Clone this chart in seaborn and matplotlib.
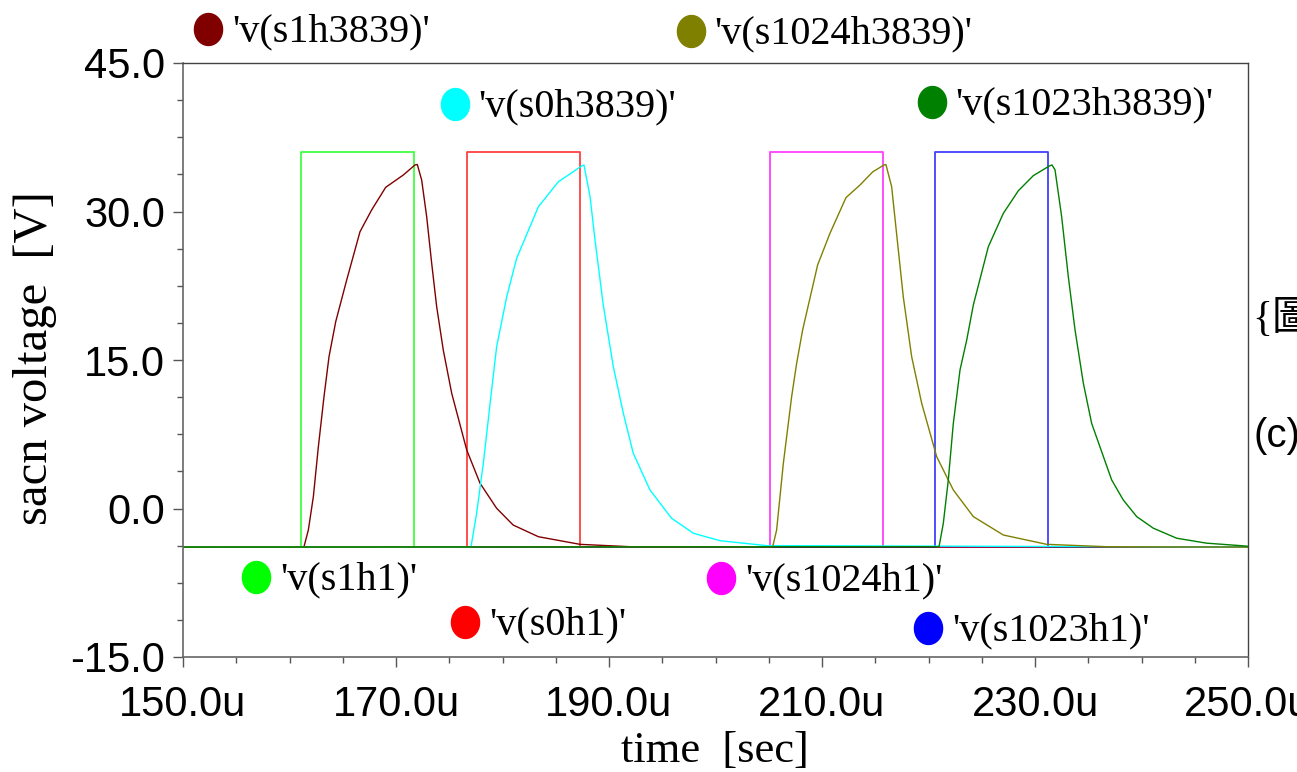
import numpy as np
import pandas as pd
import matplotlib
matplotlib.use("Agg")
import matplotlib.pyplot as plt
import seaborn as sns
from matplotlib.path import Path
from matplotlib.ticker import MultipleLocator, FixedLocator, FuncFormatter

# ---------------- data ----------------
low_level = -3.9
high_level = 36.0

pulse_names = ["'v(s1h1)'", "'v(s0h1)'", "'v(s1024h1)'", "'v(s1023h1)'"]
pulse_on = [161.1, 176.7, 205.1, 220.6]
pulse_off = [171.7, 187.3, 215.7, 231.2]
pulse_colors = ["#00ff00", "#ff0000", "#ff00ff", "#0000ff"]

t_s1h3839 = [150.0, 161.36, 161.77, 162.24, 162.71, 163.24, 163.71, 164.34, 165.37, 166.62,
             167.71, 169.03, 170.69, 171.78, 172.0, 172.41, 172.88, 173.35, 173.82, 174.44,
             175.23, 176.64, 177.89, 179.45, 181.0, 183.37, 187.28, 192.0, 250.0]
v_s1h3839 = [-3.9, -3.86, -2.17, 1.2, 6.24, 11.3, 15.33, 18.87, 23.08, 27.96,
             30.15, 32.44, 33.69, 34.7, 34.75, 33.18, 29.48, 24.77, 20.38, 16.0,
             11.64, 5.91, 2.55, 0.02, -1.67, -2.85, -3.62, -3.86, -3.9]

t_s0h3839 = [150.0, 177.04, 177.57, 178.2, 178.98, 179.45, 180.4, 181.33, 183.37, 185.24,
             187.44, 187.65, 188.22, 188.69, 189.47, 190.41, 191.35, 192.28, 193.85, 195.88,
             197.92, 200.42, 204.8, 250.0]
v_s0h3839 = [-3.9, -3.88, -0.49, 4.56, 11.97, 16.34, 21.4, 25.27, 30.48, 33.0,
             34.6, 34.7, 31.5, 27.1, 20.5, 14.3, 9.6, 5.57, 1.87, -0.99,
             -2.5, -3.25, -3.75, -3.9]

t_s1024h3839 = [150.0, 205.37, 205.74, 206.37, 207.15, 207.62, 208.18, 209.59, 210.75, 212.25,
                213.57, 214.76, 215.82, 216.0, 216.54, 217.0, 217.63, 218.42, 219.36, 220.77,
                222.33, 224.21, 227.03, 231.1, 236.7, 250.0]
v_s1024h3839 = [-3.9, -3.86, -2.17, 4.56, 11.3, 14.67, 18.03, 24.6, 27.8, 31.4,
                32.68, 34.0, 34.7, 34.75, 32.5, 27.8, 21.4, 15.33, 10.63, 5.23,
                1.87, -0.82, -2.68, -3.62, -3.86, -3.9]

t_s1023h3839 = [150.0, 220.99, 221.39, 221.86, 222.33, 222.96, 223.59, 224.21, 225.62, 227.03,
                228.44, 229.84, 231.35, 231.6, 231.88, 232.5, 233.13, 233.76, 234.54, 235.32,
                237.2, 238.29, 239.55, 241.11, 243.3, 246.1, 249.9, 250.0]
v_s1023h3839 = [-3.9, -3.86, -1.5, 2.88, 8.6, 14.0, 17.02, 20.56, 26.45, 29.82,
                32.1, 33.62, 34.6, 34.7, 34.2, 29.5, 23.4, 18.03, 12.65, 8.6,
                2.88, 0.86, -0.82, -1.99, -3.0, -3.5, -3.8, -3.85]

curve_names = ["'v(s1h3839)'", "'v(s0h3839)'", "'v(s1024h3839)'", "'v(s1023h3839)'"]
curve_t = [t_s1h3839, t_s0h3839, t_s1024h3839, t_s1023h3839]
curve_v = [v_s1h3839, v_s0h3839, v_s1024h3839, v_s1023h3839]
curve_colors = ["#800000", "#00ffff", "#808000", "#008000"]

x_ticks = [150.0, 170.0, 190.0, 210.0, 230.0, 250.0]
y_ticks = [-15.0, 0.0, 15.0, 30.0, 45.0]
x_min, x_max = 150.0, 250.0
y_min, y_max = -15.0, 45.0

# ---------------- build long table ----------------
rows = []
for name, on, off in zip(pulse_names, pulse_on, pulse_off):
    ts = [x_min, on, on, off, off, x_max]
    vs = [low_level, low_level, high_level, high_level, low_level, low_level]
    for i, (t, v) in enumerate(zip(ts, vs)):
        rows.append((name, i, t, v))
for name, ts, vs in zip(curve_names, curve_t, curve_v):
    for i, (t, v) in enumerate(zip(ts, vs)):
        rows.append((name, i, t, v))
df = pd.DataFrame(rows, columns=["signal", "order", "time", "voltage"])

# ---------------- figure ----------------
sns.set_style("white")
plt.rcParams["font.family"] = ["Liberation Sans", "DejaVu Sans"]
plt.rcParams["text.color"] = "black"
plt.rcParams["axes.labelcolor"] = "black"
plt.rcParams["xtick.color"] = "black"
plt.rcParams["ytick.color"] = "black"

W, H = 1297, 772
fig = plt.figure(figsize=(W / 100, H / 100), dpi=100)
L, R, T, B = 183, 1248, 63, 657
ax = fig.add_axes([L / W, 1 - B / H, (R - L) / W, (B - T) / H])
ax.set_facecolor("white")

for name, col in zip(pulse_names, pulse_colors):
    sub = df[df.signal == name]
    sns.lineplot(data=sub, x="time", y="voltage", sort=False, estimator=None,
                 color=col, lw=1.3, alpha=0.75, ax=ax)
for name, col in zip(curve_names, curve_colors):
    sub = df[df.signal == name]
    sns.lineplot(data=sub, x="time", y="voltage", sort=False, estimator=None,
                 color=col, lw=1.0, ax=ax)

ax.set_xlim(x_min, x_max)
ax.set_ylim(y_min, y_max)
ax.xaxis.set_major_locator(FixedLocator(x_ticks))
ax.xaxis.set_minor_locator(MultipleLocator(5))
ax.yaxis.set_major_locator(FixedLocator(y_ticks))
ax.yaxis.set_minor_locator(MultipleLocator(3.75))
ax.xaxis.set_major_formatter(FuncFormatter(lambda v, p: f"{v:.1f}u"))
ax.yaxis.set_major_formatter(FuncFormatter(lambda v, p: f"{v:.1f}"))
ax.tick_params(axis="both", which="major", direction="out", length=7, width=1.0,
               color="#555555", labelcolor="black", labelsize=30, bottom=True, left=True)
ax.tick_params(axis="both", which="minor", direction="out", length=4, width=1.0,
               color="#555555", bottom=True, left=True)
ax.tick_params(axis="x", which="major", pad=13)
ax.tick_params(axis="y", which="major", pad=6)

for s in ["top", "right"]:
    ax.spines[s].set_color("#444444")
    ax.spines[s].set_linewidth(1.0)
for s in ["left", "bottom"]:
    ax.spines[s].set_color("#666666")
    ax.spines[s].set_linewidth(1.2)

ax.set_xlabel("time  [sec]", family="Liberation Serif", fontsize=32, color="black")
ax.set_ylabel("sacn voltage  [V]", family="Liberation Serif", fontsize=35, color="black")
ax.xaxis.set_label_coords(0.4995, (B - 731) / (B - T))
ax.yaxis.set_label_coords((57 - L) / (R - L), 0.503)

# ---------------- legend-like labels ----------------
theta = np.linspace(0, 2 * np.pi, 60)
ellipse = Path(np.column_stack([0.88 * np.cos(theta), np.sin(theta)]), closed=True)

label_names = curve_names + pulse_names
label_colors = curve_colors + pulse_colors
label_px = [(208, 29, 232), (455, 104, 478), (691, 31, 714), (932, 102, 955),
            (256, 577, 280), (465, 622, 489), (721, 578, 745), (928, 628, 952)]

def ax_xy(px, py):
    return (px - L) / (R - L), (B - py) / (B - T)

for name, col, (cx, cy, tx) in zip(label_names, label_colors, label_px):
    mx, my = ax_xy(cx, cy)
    ax.plot([mx], [my], marker=ellipse, markersize=23, color=col, mec=col,
            ls="none", transform=ax.transAxes, clip_on=False)
    lx, ly = ax_xy(tx, cy + 3)
    ax.text(lx, ly, name, transform=ax.transAxes, family="Liberation Serif",
            fontsize=29, va="center", ha="left", color="black")

# text fragments at the right edge (cut off by the page edge, as in the source)
fig.text(1252 / W, 1 - 320 / H, "{圖", family=["Liberation Serif", "Noto Sans CJK TC"],
         fontsize=30, va="center", ha="left", color="black")
fig.text(1253 / W, 1 - 436 / H, "(c)", family=["Liberation Sans"],
         fontsize=29, va="center", ha="left", color="black")

fig.savefig("out.png", dpi=100)
